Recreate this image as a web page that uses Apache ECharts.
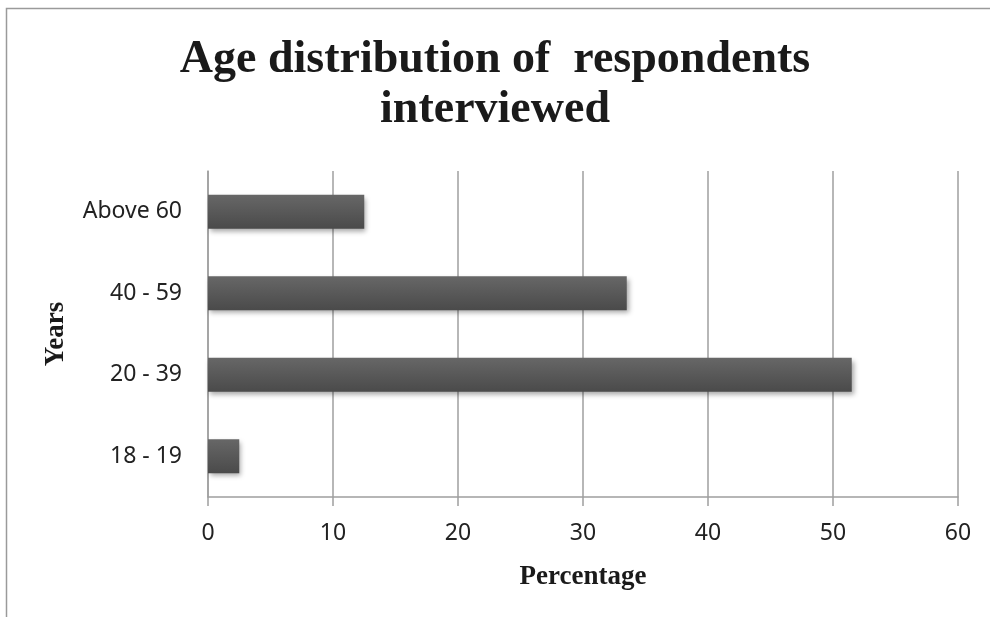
<!DOCTYPE html>
<html>
<head>
<meta charset="utf-8">
<script src="https://cdn.jsdelivr.net/npm/echarts@6/dist/echarts.min.js"></script>
<style>
  html, body { margin: 0; padding: 0; background: #fff; }
  #chart { width: 990px; height: 617px; }
</style>
</head>
<body>
<div id="chart"></div>
<script>
// Age groups, bottom to top on the category axis
const ageGroups = ['18 - 19', '20 - 39', '40 - 59', 'Above 60'];
// Share of respondents in each group (%)
const percentages = [2.5, 51.5, 33.5, 12.5];
// Value axis range
const axisMin = 0;
const axisMax = 60;
const axisStep = 10;

const chart = echarts.init(document.getElementById('chart'), null, { renderer: 'canvas' });

const serif = '"Liberation Serif", "DejaVu Serif", serif';
const sans = '"Noto Sans", "Open Sans", sans-serif';
const gridGray = '#9f9f9f';

chart.setOption({
  backgroundColor: '#ffffff',
  animation: false,
  graphic: [{
    type: 'rect',
    shape: { x: 6.5, y: 8.5, width: 1200, height: 900 },
    style: { fill: 'none', stroke: '#9a9a9a', lineWidth: 1.5 },
    silent: true
  }],
  title: {
    text: 'Age distribution of  respondents\ninterviewed',
    left: 'center',
    top: 30,
    textStyle: {
      fontFamily: serif,
      fontWeight: 'bold',
      fontSize: 46,
      lineHeight: 50,
      color: '#1a1a1a'
    }
  },
  grid: {
    left: 208,
    right: 32,
    top: 171,
    bottom: 120,
    containLabel: false
  },
  xAxis: {
    type: 'value',
    min: axisMin,
    max: axisMax,
    interval: axisStep,
    name: 'Percentage',
    nameLocation: 'middle',
    nameGap: 67,
    nameTextStyle: {
      fontFamily: serif,
      fontWeight: 'bold',
      fontSize: 27,
      color: '#1a1a1a'
    },
    axisLine: { show: true, lineStyle: { color: gridGray, width: 1.5 } },
    axisTick: { show: true, inside: false, length: 9, lineStyle: { color: gridGray, width: 1.5 } },
    axisLabel: { fontFamily: sans, fontSize: 23, color: '#222', margin: 25 },
    splitLine: { show: true, lineStyle: { color: gridGray, width: 1.5 } }
  },
  yAxis: {
    type: 'category',
    data: ageGroups,
    name: 'Years',
    nameLocation: 'middle',
    nameGap: 138,
    nameRotate: 90,
    nameTextStyle: {
      fontFamily: serif,
      fontWeight: 'bold',
      fontSize: 27,
      color: '#1a1a1a'
    },
    axisLine: { show: true, lineStyle: { color: gridGray, width: 1.5 } },
    axisTick: { show: false },
    axisLabel: { fontFamily: sans, fontSize: 23, color: '#222', margin: 26 },
    splitLine: { show: false }
  },
  series: [{
    type: 'bar',
    data: percentages,
    barWidth: '42%',
    itemStyle: {
      color: new echarts.graphic.LinearGradient(0, 0, 0, 1, [
        { offset: 0, color: '#676767' },
        { offset: 1, color: '#4a4a4a' }
      ]),
      shadowColor: 'rgba(0,0,0,0.35)',
      shadowBlur: 5,
      shadowOffsetX: 2,
      shadowOffsetY: 3
    }
  }]
});
</script>
</body>
</html>
